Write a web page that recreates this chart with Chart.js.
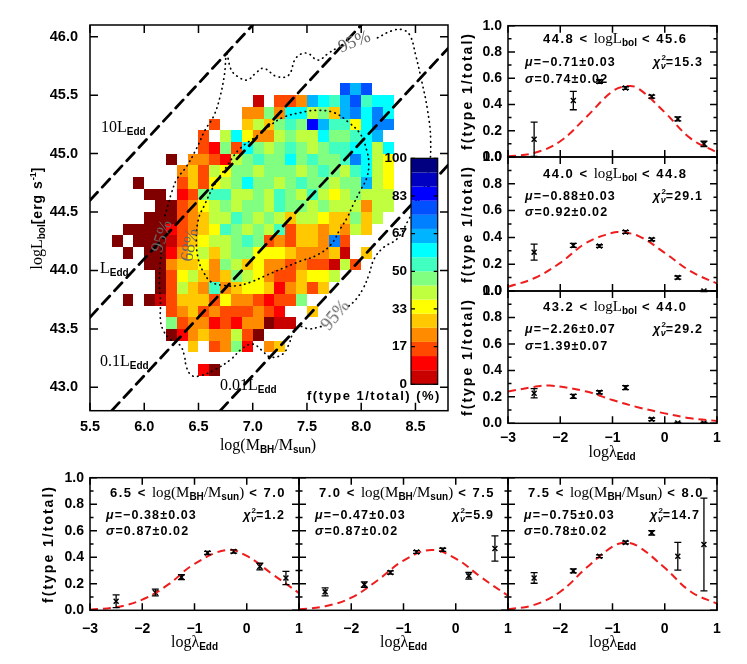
<!DOCTYPE html>
<html>
<head>
<meta charset="utf-8">
<title>f(type 1/total)</title>
<script src="https://cdn.jsdelivr.net/npm/chart.js@4.4.1/dist/chart.umd.min.js"></script>
<style>
body { margin: 0; background: #fff; }
#wrap { position: relative; width: 747px; height: 664px; overflow: hidden; background: #fff; }
#wrap canvas { position: absolute; left: 0; top: 0; }
.t { position: absolute; white-space: nowrap; line-height: 1; color: #000; }
.sr { font-family: "Liberation Serif", "Times New Roman", serif; font-size: 16px; font-weight: normal; letter-spacing: 0; }
.sb { font-family: "Liberation Sans", Arial, sans-serif; font-weight: bold; font-size: 13px; letter-spacing: 1.5px; }
.sm { font-family: "Liberation Sans", Arial, sans-serif; font-weight: bold; font-size: 12.5px; letter-spacing: 1.1px; }
.sub { font: bold 10px "Liberation Sans", Arial, sans-serif; position: relative; top: 3px; letter-spacing: 0; }
.sup { font: bold 9px "Liberation Sans", Arial, sans-serif; position: relative; top: -6px; letter-spacing: 0; }
.s2 { font: bold 8px "Liberation Sans", Arial, sans-serif; position: relative; top: -6px; letter-spacing: 0; }
.nu { font: italic bold 9px "Liberation Sans", Arial, sans-serif; position: relative; top: 3px; margin-left: -5px; letter-spacing: 0; }
.pct { font-family: "Liberation Serif", serif; font-size: 18px; color: #666; transform: translate(-50%, -50%) rotate(var(--a)); }
.rot { transform: translate(-50%, -50%) rotate(-90deg); }
.ctr { transform: translateX(-50%); }
.yt { font-size: 14px; letter-spacing: 2px; }
</style>
</head>
<body>
<div id="wrap">
<canvas id="cMain" width="747" height="664"></canvas>
<canvas id="cBar" width="747" height="664"></canvas>
<canvas id="cR0" width="747" height="664"></canvas>
<canvas id="cR1" width="747" height="664"></canvas>
<canvas id="cR2" width="747" height="664"></canvas>
<canvas id="cB0" width="747" height="664"></canvas>
<canvas id="cB1" width="747" height="664"></canvas>
<canvas id="cB2" width="747" height="664"></canvas>

<!-- main panel labels -->
<div class="t sr" style="left:101px;top:119px">10L<span class="sub">Edd</span></div>
<div class="t sr" style="left:100px;top:259.6px">L<span class="sub">Edd</span></div>
<div class="t sr" style="left:100px;top:353px">0.1L<span class="sub">Edd</span></div>
<div class="t sr" style="left:220px;top:376.6px">0.01L<span class="sub">Edd</span></div>
<div class="t pct" style="left:354px;top:41px;--a:-22deg">95%</div>
<div class="t pct" style="left:161px;top:236px;--a:-72deg">95%</div>
<div class="t pct" style="left:335px;top:315px;--a:-50deg">95%</div>
<div class="t pct" style="left:189px;top:245px;--a:-80deg">68%</div>
<div class="t sr ctr" style="left:268px;top:437px">log(M<span class="sub">BH</span>/M<span class="sub">sun</span>)</div>
<div class="t rot" style="left:37px;top:218px"><span class="sr">logL</span><span class="sub">bol</span><span class="sb" style="font-size:14px;letter-spacing:1px">[erg s<span class="sup">-1</span>]</span></div>
<div class="t sb" style="left:307px;top:389px">f(type 1/total) (%)</div>

<!-- right column -->
<div class="t sb" style="left:543px;top:31.3px">44.8 &lt; <span class="sr" style="font-size:15px">logL</span><span class="sub">bol</span> &lt; 45.6</div>
<div class="t sm" style="left:525px;top:56.3px"><i>μ</i>=−0.71±0.03</div>
<div class="t sm" style="left:525px;top:72.9px"><i>σ</i>=0.74±0.02</div>
<div class="t sm" style="right:44px;top:56.3px"><i>χ</i><span class="s2">2</span><span class="nu">ν</span>=15.3</div>

<div class="t sb" style="left:543px;top:165.7px">44.0 &lt; <span class="sr" style="font-size:15px">logL</span><span class="sub">bol</span> &lt; 44.8</div>
<div class="t sm" style="left:525px;top:189.6px"><i>μ</i>=−0.88±0.03</div>
<div class="t sm" style="left:525px;top:206.3px"><i>σ</i>=0.92±0.02</div>
<div class="t sm" style="right:44px;top:189.6px"><i>χ</i><span class="s2">2</span><span class="nu">ν</span>=29.1</div>

<div class="t sb" style="left:543px;top:299px">43.2 &lt; <span class="sr" style="font-size:15px">logL</span><span class="sub">bol</span> &lt; 44.0</div>
<div class="t sm" style="left:525px;top:322.6px"><i>μ</i>=−2.26±0.07</div>
<div class="t sm" style="left:525px;top:339.6px"><i>σ</i>=1.39±0.07</div>
<div class="t sm" style="right:44px;top:322.6px"><i>χ</i><span class="s2">2</span><span class="nu">ν</span>=29.2</div>

<div class="t sb yt rot" style="left:467px;top:91px">f(type 1/total)</div>
<div class="t sb yt rot" style="left:467px;top:224px">f(type 1/total)</div>
<div class="t sb yt rot" style="left:467px;top:357px">f(type 1/total)</div>
<div class="t sr ctr" style="left:612px;top:444px">logλ<span class="sub">Edd</span></div>

<!-- bottom row -->
<div class="t sb" style="left:110px;top:484.7px">6.5 &lt; <span class="sr" style="font-size:15px">log(M</span><span class="sub">BH</span><span class="sr" style="font-size:15px">/M</span><span class="sub">sun</span><span class="sr" style="font-size:15px">)</span> &lt; 7.0</div>
<div class="t sm" style="left:106px;top:508.9px"><i>μ</i>=−0.38±0.03</div>
<div class="t sm" style="left:106px;top:524.6px"><i>σ</i>=0.87±0.02</div>
<div class="t sm" style="right:462px;top:508.9px"><i>χ</i><span class="s2">2</span><span class="nu">ν</span>=1.2</div>

<div class="t sb" style="left:319px;top:484.7px">7.0 &lt; <span class="sr" style="font-size:15px">log(M</span><span class="sub">BH</span><span class="sr" style="font-size:15px">/M</span><span class="sub">sun</span><span class="sr" style="font-size:15px">)</span> &lt; 7.5</div>
<div class="t sm" style="left:315px;top:508.9px"><i>μ</i>=−0.47±0.03</div>
<div class="t sm" style="left:315px;top:524.6px"><i>σ</i>=0.87±0.02</div>
<div class="t sm" style="right:253px;top:508.9px"><i>χ</i><span class="s2">2</span><span class="nu">ν</span>=5.9</div>

<div class="t sb" style="left:528px;top:484.7px">7.5 &lt; <span class="sr" style="font-size:15px">log(M</span><span class="sub">BH</span><span class="sr" style="font-size:15px">/M</span><span class="sub">sun</span><span class="sr" style="font-size:15px">)</span> &lt; 8.0</div>
<div class="t sm" style="left:524px;top:508.9px"><i>μ</i>=−0.75±0.03</div>
<div class="t sm" style="left:524px;top:524.6px"><i>σ</i>=0.78±0.02</div>
<div class="t sm" style="right:47px;top:508.9px"><i>χ</i><span class="s2">2</span><span class="nu">ν</span>=14.7</div>

<div class="t sb yt rot" style="left:47.5px;top:544px">f(type 1/total)</div>
<div class="t sr ctr" style="left:194.5px;top:634px">logλ<span class="sub">Edd</span></div>
<div class="t sr ctr" style="left:403.5px;top:634px">logλ<span class="sub">Edd</span></div>
<div class="t sr ctr" style="left:612.5px;top:634px">logλ<span class="sub">Edd</span></div>
</div>

<script>
const W = 747, H = 664;
const _ = null;

// ---- main panel: fraction of type 1 in bins of 0.1 x 0.1 (percent), value 0 = none
const heatCols = [5.7,5.8,5.9,6.0,6.1,6.2,6.3,6.4,6.5,6.6,6.7,6.8,6.9,7.0,7.1,7.2,7.3,7.4,7.5,7.6,7.7,7.8,7.9,8.0,8.1,8.2];
const heatRows = [45.5,45.4,45.3,45.2,45.1,45.0,44.9,44.8,44.7,44.6,44.5,44.4,44.3,44.2,44.1,44.0,43.9,43.8,43.7,43.6,43.5,43.4,43.3,43.2,43.1];
const heatVals = [
  [_,_,_,_,_,_,_,_,_,_,_,_,_,_,_,_,_,_,_,_,_,78,66,78,_,_],
  [_,_,_,_,_,_,_,_,_,_,_,_,_,3,_,16,16,22,66,59,53,66,78,53,59,59],
  [_,_,_,_,_,_,_,_,_,_,_,_,22,22,47,22,59,59,41,47,28,66,72,59,72,59],
  [_,_,_,_,_,_,_,_,_,16,_,_,28,41,28,47,53,47,84,66,53,53,34,59,72,72],
  [_,_,_,_,_,_,_,_,16,_,41,59,34,22,22,41,47,41,41,59,47,47,53,59,66,_],
  [_,_,_,_,_,_,_,_,16,9,47,16,59,47,41,47,53,47,41,47,53,53,59,59,41,59],
  [_,_,_,_,_,0,_,22,22,16,9,41,47,53,47,47,59,47,53,47,47,53,72,59,41,34],
  [_,_,_,_,_,_,22,28,16,41,34,47,47,41,47,47,47,41,47,53,47,41,53,59,41,34],
  [_,_,0,_,_,_,16,28,16,34,41,47,59,47,47,41,47,53,47,47,41,47,47,66,41,34],
  [_,_,_,0,0,_,9,16,47,53,53,41,41,47,41,53,47,41,53,41,34,41,47,41,41,41],
  [_,_,_,_,0,0,16,22,34,41,47,41,47,47,41,53,47,47,41,47,41,41,41,22,41,41],
  [_,_,_,0,0,0,16,22,28,41,41,53,47,41,47,41,28,41,41,34,28,28,47,28,41,_],
  [_,0,0,0,0,9,16,22,28,34,53,47,41,47,41,53,16,28,28,22,28,22,41,28,_,_],
  [0,_,0,0,0,3,16,28,34,41,41,47,53,47,16,22,16,28,28,22,72,16,_,_,_,_],
  [_,0,_,0,0,9,22,34,41,28,41,47,47,34,34,34,28,22,22,22,28,3,_,28,_,_],
  [_,_,_,0,0,22,28,28,34,22,47,41,28,34,22,22,16,22,16,16,3,41,16,_,_,_],
  [_,_,_,_,0,16,34,41,28,22,28,47,41,34,22,16,16,28,34,34,41,_,_,_,_,_],
  [_,_,_,_,0,16,41,28,22,53,22,28,34,34,28,9,22,28,16,28,_,_,_,_,_,_],
  [_,0,_,0,3,16,28,28,28,16,34,22,22,16,9,16,16,47,_,_,_,_,_,_,_,_],
  [_,_,_,_,_,16,22,28,16,22,16,16,16,22,16,9,_,_,28,_,_,_,_,_,_,_],
  [_,_,_,_,_,47,16,22,22,9,16,9,22,22,0,3,3,_,_,_,_,_,_,_,_,_],
  [_,_,_,_,_,0,9,22,28,22,22,41,16,0,_,_,_,_,_,_,_,_,_,_,_,_],
  [_,_,_,_,_,_,_,28,_,16,22,47,9,_,22,28,_,_,_,_,_,_,_,_,_,_],
  [_,_,_,_,_,_,_,_,_,_,_,_,_,_,_,_,_,_,_,_,_,_,_,_,_,_],
  [_,_,_,_,_,_,_,_,9,0,_,_,_,_,_,_,_,_,_,_,_,_,_,_,_,_]
];

// colour bar levels (percent) and colours
const cbLevels = [0,6.25,12.5,18.75,25,31.25,37.5,43.75,50,56.25,62.5,68.75,75,81.25,87.5,93.75,100];
const cbColors = ['#c80000','#ff0000','#ff4800','#ff8c00','#ffc800','#ffff00','#c0ff40','#80ff80',
                  '#40ffc0','#00ffff','#00b4ff','#0080ff','#0050ff','#0000ff','#0000c0','#000080'];
const cbTicks = [0,16.67,33.33,50,66.67,83.33,100];
const cbLabels = ['0','17','33','50','67','83','100'];

// Eddington ratio lines (end points in logM, logL)
const edd10 = [[5.5,44.6],[7.0,46.1]];
const edd1 = [[5.5,43.6],[8.0,46.1]];
const edd01 = [[5.7,42.8],[8.8,45.9]];
const edd001 = [[6.7,42.8],[8.8,44.9]];

// density contours (95% split where its labels sit, 68% closed)
const c95a = [[6.19,44.47],[6.22,44.56],[6.25,44.66],[6.30,44.78],[6.39,44.89],[6.48,45.04],[6.56,45.20],[6.64,45.32],
  [6.70,45.49],[6.74,45.68],[6.76,45.85],[6.80,45.72],[6.86,45.66],[6.95,45.63],[7.03,45.69],[7.10,45.73],[7.22,45.66],
  [7.33,45.67],[7.40,45.82],[7.50,45.86],[7.60,45.80],[7.70,45.86],[7.77,45.90]];
const c95b = [[8.15,45.99],[8.28,46.05],[8.38,46.06],[8.45,46.01],[8.50,45.85],[8.56,45.61],[8.61,45.38],[8.64,45.12],
  [8.62,44.85],[8.53,44.60],[8.44,44.44],[8.33,44.27],[8.21,44.20],[8.12,44.10],[8.07,43.96],[8.02,43.85],[7.95,43.75],[7.88,43.69]];
const c95c = [[7.63,43.52],[7.52,43.50],[7.43,43.52],[7.37,43.46],[7.33,43.36],[7.27,43.28],[7.16,43.26],[7.08,43.32],
  [7.00,43.37],[6.90,43.33],[6.80,43.24],[6.65,43.15],[6.52,43.10],[6.44,43.10],[6.39,43.17],[6.37,43.27],[6.33,43.36],
  [6.24,43.41],[6.18,43.48],[6.15,43.57],[6.15,43.72],[6.14,43.90],[6.15,44.08],[6.16,44.20]];
const c68 = [[7.04,45.15],[7.16,45.24],[7.28,45.31],[7.44,45.35],[7.59,45.37],[7.75,45.35],[7.88,45.27],[7.99,45.17],
  [8.05,45.03],[8.07,44.91],[8.05,44.79],[7.99,44.68],[7.93,44.57],[7.87,44.45],[7.81,44.36],[7.72,44.22],[7.59,44.13],
  [7.44,44.08],[7.28,44.02],[7.13,43.96],[6.98,43.90],[6.86,43.87],[6.75,43.87],[6.62,43.90],[6.55,43.98],[6.50,44.09],
  [6.48,44.26],[6.50,44.44],[6.55,44.55],[6.64,44.72],[6.76,44.89],[6.88,45.04],[7.04,45.15]];

const mainXTicks = [5.5,6.0,6.5,7.0,7.5,8.0,8.5];
const mainYTicks = [43.0,43.5,44.0,44.5,45.0,45.5,46.0];
const lamTicks = [-3,-2,-1,0,1];
const fTicks = [0,0.2,0.4,0.6,0.8,1.0];

// ---- type-1 fraction vs Eddington ratio
const lamBins = [-2.5,-1.75,-1.25,-0.75,-0.25,0.25,0.75];
// Lbol bins
const fLbol1 = [0.135,0.43,0.575,0.525,0.46,0.29,0.10];
const eLbol1 = [0.13,0.07,0.015,0.01,0.012,0.015,0.02];
const fLbol2 = [0.29,0.34,0.335,0.44,0.385,0.10,0.0];
const eLbol2 = [0.06,0.015,0.01,0.01,0.01,0.012,0.004];
const fLbol3 = [0.227,0.204,0.234,0.27,0.03,0.003,0.003];
const eLbol3 = [0.035,0.015,0.012,0.015,0.01,0.004,0.004];
// MBH bins
const fMbh1 = [0.068,0.134,0.25,0.433,0.443,0.33,0.244];
const eMbh1 = [0.048,0.025,0.018,0.012,0.012,0.025,0.05];
const fMbh2 = [0.139,0.194,0.285,0.44,0.456,0.26,0.466];
const eMbh2 = [0.03,0.02,0.012,0.01,0.012,0.025,0.095];
const fMbh3 = [0.244,0.297,0.408,0.511,0.584,0.408,0.496];
const eMbh3 = [0.04,0.015,0.01,0.01,0.017,0.105,0.35];

// gaussian fits
const fitLbol1X = [-3,-2.5,-2,-1.5,-1,-0.71,-0.5,0,0.5,1];
const fitLbol1Y = [0.005,0.03,0.12,0.305,0.50,0.54,0.52,0.34,0.14,0.035];
const fitLbol2X = [-3,-2.5,-2,-1.5,-1,-0.88,-0.5,0,0.5,1];
const fitLbol2Y = [0.032,0.095,0.21,0.36,0.435,0.44,0.41,0.285,0.146,0.056];
const fitLbol3X = [-3,-2.5,-2.2,-1.5,-1,-0.5,0,0.5,1];
const fitLbol3Y = [0.24,0.275,0.285,0.24,0.176,0.12,0.075,0.038,0.018];
const fitMbh1X = [-3,-2.5,-2,-1.5,-1,-0.38,0,0.5,1];
const fitMbh1Y = [0.005,0.023,0.08,0.195,0.35,0.455,0.41,0.27,0.13];
const fitMbh2X = [-3,-2.5,-2,-1.5,-1,-0.47,0,0.5,1];
const fitMbh2Y = [0.007,0.03,0.095,0.225,0.375,0.455,0.39,0.245,0.11];
const fitMbh3X = [-3,-2.5,-2,-1.5,-1,-0.75,-0.5,0,0.5,1];
const fitMbh3Y = [0.008,0.041,0.14,0.32,0.48,0.51,0.48,0.32,0.14,0.05];

Chart.defaults.font.family = 'Liberation Sans';
Chart.defaults.color = '#000';

function cellColor(v) {
  if (v === 0) return '#800000';
  return cbColors[Math.min(15, Math.floor(v / 6.25))];
}

// heat map cells, drawn through the chart's own scales
const heatPlugin = {
  id: 'heat',
  beforeDatasetsDraw(chart) {
    const {ctx, scales: {x, y}} = chart;
    ctx.save();
    heatVals.forEach((row, i) => row.forEach((v, j) => {
      if (v === null) return;
      const x0 = Math.round(x.getPixelForValue(heatCols[j]));
      const x1 = Math.round(x.getPixelForValue(heatCols[j] + 0.1));
      const y0 = Math.round(y.getPixelForValue(heatRows[i] + 0.1));
      const y1 = Math.round(y.getPixelForValue(heatRows[i]));
      ctx.fillStyle = cellColor(v);
      ctx.fillRect(x0, y0, x1 - x0, y1 - y0);
    }));
    ctx.restore();
  }
};

// colour bar bands
const barPlugin = {
  id: 'cbar',
  beforeDatasetsDraw(chart) {
    const {ctx, chartArea: a, scales: {y}} = chart;
    ctx.save();
    cbColors.forEach((c, k) => {
      const y0 = y.getPixelForValue(cbLevels[k + 1]), y1 = y.getPixelForValue(cbLevels[k]);
      ctx.fillStyle = c;
      ctx.fillRect(a.left, y0, a.width, y1 - y0);
    });
    ctx.restore();
  }
};

// box with inward ticks on all four sides
const framePlugin = {
  id: 'frame',
  afterDraw(chart, args, o) {
    const {ctx, chartArea: a, scales: {x, y}} = chart;
    ctx.save();
    ctx.strokeStyle = '#000';
    ctx.lineWidth = o.lw || 1.5;
    ctx.beginPath();
    const seg = (x0, y0, x1, y1) => { ctx.moveTo(x0, y0); ctx.lineTo(x1, y1); };
    (o.xTicks || []).forEach(v => {
      const p = x.getPixelForValue(v);
      seg(p, a.bottom, p, a.bottom - o.len);
      seg(p, a.top, p, a.top + o.len);
    });
    (o.yTicks || []).forEach(v => {
      const p = y.getPixelForValue(v);
      seg(a.left, p, a.left + o.len, p);
      seg(a.right, p, a.right - o.len, p);
    });
    if (o.yMinor) {
      for (let v = y.min + o.yMinor; v < y.max - 1e-6; v += o.yMinor) {
        const p = y.getPixelForValue(v);
        seg(a.left, p, a.left + o.len / 2, p);
        seg(a.right, p, a.right - o.len / 2, p);
      }
    }
    ctx.stroke();
    ctx.strokeRect(a.left, a.top, a.width, a.height);
    ctx.restore();
  }
};

// vertical error bars with caps
const errPlugin = {
  id: 'errbars',
  afterDatasetsDraw(chart) {
    const {ctx, scales: {x, y}} = chart;
    chart.data.datasets.forEach(ds => {
      if (!ds.errors) return;
      ctx.save();
      ctx.strokeStyle = '#000';
      ctx.lineWidth = 1.3;
      ctx.beginPath();
      ds.data.forEach((p, i) => {
        const e = ds.errors[i];
        const px = x.getPixelForValue(p.x);
        const top = y.getPixelForValue(p.y + e), bot = y.getPixelForValue(p.y - e);
        ctx.moveTo(px, top); ctx.lineTo(px, bot);
        ctx.moveTo(px - 3.5, top); ctx.lineTo(px + 3.5, top);
        ctx.moveTo(px - 3.5, bot); ctx.lineTo(px + 3.5, bot);
      });
      ctx.stroke();
      ctx.restore();
    });
  }
};

function layoutFor(a, yw, xh) {
  return {padding: {left: a.l - yw, top: a.t, right: W - a.r, bottom: H - a.b - xh}};
}

function axis(min, max, ticks, fmt, size, fit, show, pad) {
  return {
    type: 'linear', min, max,
    grid: {display: false, drawTicks: false},
    border: {display: false},
    afterBuildTicks: s => { s.ticks = ticks.map(v => ({value: v})); },
    afterFit: fit,
    ticks: {display: show, autoSkip: false, maxRotation: 0, padding: pad, callback: fmt,
            color: '#000', font: {family: 'Liberation Sans', weight: 'bold', size}}
  };
}

const common = {
  responsive: false,
  devicePixelRatio: 1,
  animation: false,
  events: []
};

const pts = arr => arr.map(p => ({x: p[0], y: p[1]}));
const lineDs = (arr, dash, width, tension) => ({
  data: pts(arr), showLine: true, borderColor: '#000', borderWidth: width, borderDash: dash,
  borderCapStyle: 'round', pointRadius: 0, tension, fill: false
});

// main panel
const mainArea = {l: 90, t: 25, r: 448, b: 410.7};
new Chart(document.getElementById('cMain'), {
  type: 'scatter',
  data: {datasets: [
    lineDs(edd10, [11, 7], 2.8, 0), lineDs(edd1, [11, 7], 2.8, 0),
    lineDs(edd01, [11, 7], 2.8, 0), lineDs(edd001, [11, 7], 2.8, 0),
    lineDs(c95a, [0.5, 4.5], 1.7, 0.4), lineDs(c95b, [0.5, 4.5], 1.7, 0.4),
    lineDs(c95c, [0.5, 4.5], 1.7, 0.4), lineDs(c68, [0.5, 4.5], 1.7, 0.4)
  ]},
  options: {
    ...common,
    layout: layoutFor(mainArea, 60, 40),
    scales: {
      x: axis(5.5, 8.8, mainXTicks, v => v.toFixed(1), 14.5, s => { s.height = 40; }, true, 8),
      y: axis(42.8, 46.1, mainYTicks, v => v.toFixed(1), 14.5, s => { s.width = 60; }, true, 12)
    },
    plugins: {legend: {display: false}, tooltip: {enabled: false},
              frame: {xTicks: mainXTicks, yTicks: mainYTicks, len: 8, lw: 1.5}}
  },
  plugins: [heatPlugin, framePlugin]
});

// colour bar
const barArea = {l: 411, t: 158.3, r: 437.7, b: 384.3};
new Chart(document.getElementById('cBar'), {
  type: 'scatter',
  data: {datasets: [{data: []}]},
  options: {
    ...common,
    layout: layoutFor(barArea, 30, 0),
    scales: {
      x: {type: 'linear', min: 0, max: 1, display: false},
      y: axis(0, 100, cbTicks, (v, i) => cbLabels[i], 13.5, s => { s.width = 30; }, true, 4)
    },
    plugins: {legend: {display: false}, tooltip: {enabled: false},
              frame: {yTicks: cbTicks, len: 4, lw: 1.2}}
  },
  plugins: [barPlugin, framePlugin]
});

const lamFmt = v => (v < 0 ? '\u2212' + Math.abs(v) : String(v));

function panel(id, area, f, e, fx, fy, opt) {
  new Chart(document.getElementById(id), {
    type: 'scatter',
    data: {datasets: [
      {data: fx.map((x, i) => ({x, y: fy[i]})), showLine: true, borderColor: '#ee1c1c', borderWidth: 2,
       borderDash: [8, 5], pointRadius: 0, tension: 0.4, fill: false},
      {data: lamBins.map((x, i) => ({x, y: f[i]})), errors: e, pointStyle: 'crossRot', pointRadius: 3.5,
       borderColor: '#000', backgroundColor: '#000', borderWidth: 1.5}
    ]},
    options: {
      ...common,
      layout: layoutFor(area, 40, 30),
      scales: {
        x: axis(-3, 1, lamTicks, opt.xFmt, 14, s => { s.height = 30; }, opt.xLabels, opt.xPad),
        y: axis(0, 1.0, fTicks, v => v.toFixed(1), 14, s => { s.width = 40; }, opt.yLabels, 6)
      },
      plugins: {legend: {display: false}, tooltip: {enabled: false},
                frame: {xTicks: lamTicks, yTicks: fTicks, yMinor: 0.1, len: 7, lw: 1.5}}
    },
    plugins: [errPlugin, framePlugin]
  });
}

panel('cR0', {l: 508, t: 25.7, r: 717, b: 157}, fLbol1, eLbol1, fitLbol1X, fitLbol1Y,
      {xLabels: false, yLabels: true, xFmt: lamFmt, xPad: 6});
panel('cR1', {l: 508, t: 157, r: 717, b: 291}, fLbol2, eLbol2, fitLbol2X, fitLbol2Y,
      {xLabels: false, yLabels: true, xFmt: lamFmt, xPad: 6});
panel('cR2', {l: 508, t: 291, r: 717, b: 423.3}, fLbol3, eLbol3, fitLbol3X, fitLbol3Y,
      {xLabels: true, yLabels: true, xFmt: lamFmt, xPad: 6});

const lamFmtNoFirst = v => (v === -3 ? '' : lamFmt(v));
panel('cB0', {l: 90, t: 477.7, r: 299, b: 610.3}, fMbh1, eMbh1, fitMbh1X, fitMbh1Y,
      {xLabels: true, yLabels: true, xFmt: lamFmt, xPad: 10});
panel('cB1', {l: 299, t: 477.7, r: 508, b: 610.3}, fMbh2, eMbh2, fitMbh2X, fitMbh2Y,
      {xLabels: true, yLabels: false, xFmt: lamFmtNoFirst, xPad: 10});
panel('cB2', {l: 508, t: 477.7, r: 717, b: 610.3}, fMbh3, eMbh3, fitMbh3X, fitMbh3Y,
      {xLabels: true, yLabels: false, xFmt: lamFmtNoFirst, xPad: 10});
</script>
</body>
</html>
